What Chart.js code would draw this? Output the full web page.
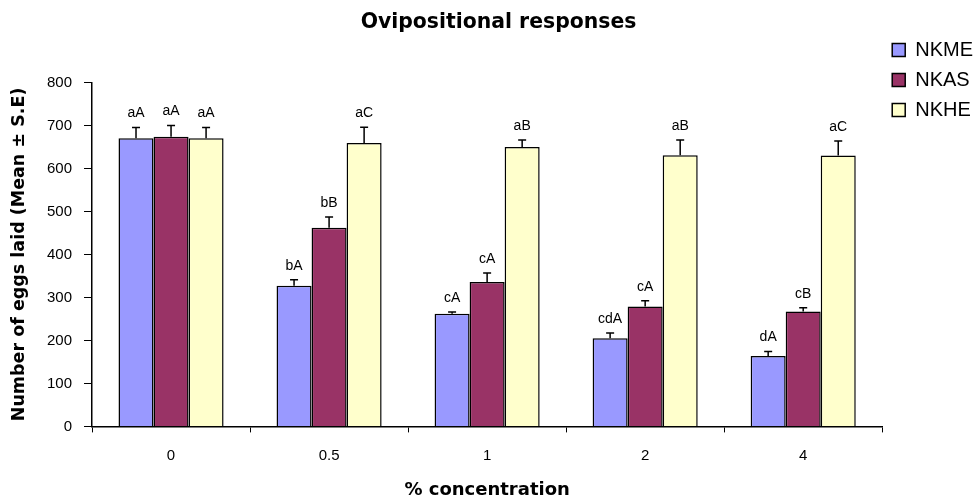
<!DOCTYPE html>
<html>
<head>
<meta charset="utf-8">
<script src="https://cdn.jsdelivr.net/npm/chart.js@4/dist/chart.umd.min.js"></script>
<style>
  html, body { margin: 0; padding: 0; background: #fff; }
  #wrap { width: 975px; height: 499px; }
</style>
</head>
<body>
<div id="wrap"><canvas id="c" width="975" height="499"></canvas></div>
<script>
// Concentrations (%) on the x axis
const categories = ['0', '0.5', '1', '2', '4'];

// Mean number of eggs laid per extract
const nkme = [670, 327, 262, 205, 164];
const nkas = [674, 462, 336, 279, 267];
const nkhe = [670, 659, 650, 631, 630];

// Standard errors
const nkmeSE = [25, 14, 4, 12, 10];
const nkasSE = [26, 25, 21, 13, 9];
const nkheSE = [25, 37, 16, 35, 34];

// Significance letters above each bar
const nkmeLetters = ['aA', 'bA', 'cA', 'cdA', 'dA'];
const nkasLetters = ['aA', 'bB', 'cA', 'cA', 'cB'];
const nkheLetters = ['aA', 'aC', 'aB', 'aB', 'aC'];

const yTicks = [0, 100, 200, 300, 400, 500, 600, 700, 800];

const SANS = 'Liberation Sans, Arial, sans-serif';
const WIDE = 'DejaVu Sans, Verdana, sans-serif';

// Draws the S.E. whiskers and the letter labels on top of every bar
const errorBars = {
  id: 'errorBars',
  afterDatasetsDraw(chart) {
    const ctx = chart.ctx;
    const y = chart.scales.y;
    chart.data.datasets.forEach((ds, di) => {
      const meta = chart.getDatasetMeta(di);
      meta.data.forEach((bar, i) => {
        const top = y.getPixelForValue(ds.data[i] + ds.se[i]);
        const x = bar.x;
        ctx.save();
        ctx.strokeStyle = '#000';
        ctx.lineWidth = 1.5;
        ctx.beginPath();
        ctx.moveTo(x, bar.y);
        ctx.lineTo(x, top);
        ctx.moveTo(x - 4, top);
        ctx.lineTo(x + 4, top);
        ctx.stroke();
        ctx.fillStyle = '#000';
        ctx.font = '14px ' + SANS;
        ctx.textAlign = 'center';
        ctx.textBaseline = 'bottom';
        ctx.fillText(ds.letters[i], x, top - 7);
        ctx.restore();
      });
    });
  }
};

new Chart(document.getElementById('c'), {
  type: 'bar',
  data: {
    labels: categories,
    datasets: [
      { label: 'NKME', data: nkme, se: nkmeSE, letters: nkmeLetters,
        backgroundColor: '#9999FF', borderColor: '#000', borderWidth: 1.5 },
      { label: 'NKAS', data: nkas, se: nkasSE, letters: nkasLetters,
        backgroundColor: '#993366', borderColor: '#000', borderWidth: 1.5 },
      { label: 'NKHE', data: nkhe, se: nkheSE, letters: nkheLetters,
        backgroundColor: '#FFFFCC', borderColor: '#000', borderWidth: 1.5 }
    ]
  },
  options: {
    responsive: false,
    animation: false,
    devicePixelRatio: 1,
    layout: { padding: { left: 14, right: -8, top: 0, bottom: -2 } },
    datasets: { bar: { categoryPercentage: 0.665, barPercentage: 1.0 } },
    plugins: {
      title: {
        display: true,
        text: 'Ovipositional responses',
        color: '#000',
        font: { family: WIDE, size: 20.4, weight: 'bold' },
        padding: { top: 10, bottom: 48 }
      },
      legend: {
        position: 'right',
        align: 'start',
        title: { display: true, text: ' ', font: { size: 10 }, padding: { top: 0, bottom: 18 } },
        labels: {
          color: '#000',
          font: { family: SANS, size: 20 },
          boxWidth: 13,
          boxHeight: 13,
          padding: 10
        }
      },
      tooltip: { enabled: false }
    },
    scales: {
      x: {
        grid: { display: true, drawOnChartArea: false, drawTicks: true, tickLength: 6,
                offset: true, color: '#000' },
        border: { color: '#000', width: 1.5 },
        ticks: { color: '#000', font: { family: SANS, size: 15 }, padding: 14 },
        title: {
          display: true, text: '% concentration', color: '#000',
          font: { family: WIDE, size: 18, weight: 'bold' }, padding: { top: 1, bottom: 0 }
        }
      },
      y: {
        min: 0, max: 800,
        afterBuildTicks(axis) { axis.ticks = yTicks.map(v => ({ value: v })); },
        grid: { display: true, drawOnChartArea: false, drawTicks: true, tickLength: 8, color: '#000' },
        border: { color: '#000', width: 1.5 },
        ticks: { color: '#000', font: { family: SANS, size: 15 }, padding: 12 },
        title: {
          display: true, text: 'Number of eggs laid (Mean \u00B1 S.E)', color: '#000',
          font: { family: WIDE, size: 17.5, weight: 'bold' }, padding: { top: -5, bottom: 5 }
        }
      }
    }
  },
  plugins: [errorBars]
});
</script>
</body>
</html>
